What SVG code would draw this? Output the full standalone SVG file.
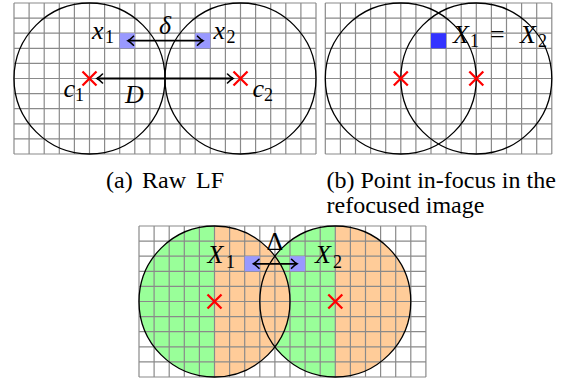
<svg xmlns="http://www.w3.org/2000/svg" width="567" height="384" viewBox="0 0 567 384">
<style>
.grid{fill:none;stroke:#8a8a8a;stroke-width:1.2}
.circ{fill:none;stroke:#000;stroke-width:1.3}
.cross{stroke:#ff0000;stroke-width:2.3;fill:none}
.arr{stroke:#000;stroke-width:1.8;fill:none;marker-start:url(#ah);marker-end:url(#ah)}
text{font-family:'Liberation Serif',Tinos,'Times New Roman','DejaVu Serif',serif;fill:#000}
.m{font-style:italic;font-size:26px}
.up{font-size:26px}
.sub{font-size:18px}
.cap{font-size:24px}
.lb{fill:#9999ff}
.db{fill:#3333ff}
.gr{fill:#99ff99}
.or{fill:#ffcc99}
</style>
<defs>
<marker id="ah" viewBox="-7 -6 9 12" refX="0" refY="0" markerWidth="9" markerHeight="12" markerUnits="userSpaceOnUse" orient="auto-start-reverse">
<path d="M-5.5,-4.5 Q-2,-1 0,0 Q-2,1 -5.5,4.5" fill="none" stroke="#000" stroke-width="1.6" stroke-linecap="round"/>
</marker>
<clipPath id="clipL"><circle cx="214.5" cy="301.5" r="75.5"/></clipPath>
<clipPath id="clipR"><circle cx="335.3" cy="301.5" r="75.5"/></clipPath>
</defs>

<!-- Panel (a) -->
<g id="panel-a">
<g id="grid-a">
<path class="grid" d="M14,3V154M29.1,3V154M44.2,3V154M59.3,3V154M74.4,3V154M89.5,3V154M104.6,3V154M119.7,3V154M134.8,3V154M149.9,3V154M165,3V154M180.1,3V154M195.2,3V154M210.3,3V154M225.4,3V154M240.5,3V154M255.6,3V154M270.7,3V154M285.8,3V154M300.9,3V154M316,3V154M14,3H316M14,18.1H316M14,33.2H316M14,48.3H316M14,63.4H316M14,78.5H316M14,93.6H316M14,108.7H316M14,123.8H316M14,138.9H316M14,154H316"/>
</g>
<g id="a-circle1"><circle class="circ" cx="89.5" cy="78.5" r="75.5"/></g>
<g id="a-circle2"><circle class="circ" cx="240.5" cy="78.5" r="75.5"/></g>
<g id="a-x1"><rect class="lb" x="119.7" y="33.2" width="15.1" height="15.1"/></g>
<g id="a-x2"><rect class="lb" x="195.2" y="33.2" width="15.1" height="15.1"/></g>
<g id="a-c1"><path class="cross" d="M82.5,71.5L96.5,85.5M96.5,71.5L82.5,85.5"/></g>
<g id="a-c2"><path class="cross" d="M233.5,71.5L247.5,85.5M247.5,71.5L233.5,85.5"/></g>
<g id="a-labels">
<text class="m" x="92" y="39">x</text><text class="sub" x="105" y="43">1</text>
<text class="m" x="159" y="34">δ</text>
<text class="m" x="213.5" y="39">x</text><text class="sub" x="226.5" y="43">2</text>
<text class="m" x="63.5" y="97">c</text><text class="sub" x="75" y="101">1</text>
<text class="m" x="125" y="102.5">D</text>
<text class="m" x="252.5" y="97">c</text><text class="sub" x="264" y="101">2</text>
</g>
</g>

<!-- Panel (b) -->
<g id="panel-b">
<g id="grid-b">
<path class="grid" d="M325.3,3V154M340.4,3V154M355.5,3V154M370.6,3V154M385.7,3V154M400.8,3V154M415.9,3V154M431,3V154M446.1,3V154M461.2,3V154M476.3,3V154M491.4,3V154M506.5,3V154M521.6,3V154M536.7,3V154M551.8,3V154M325.3,3H551.8M325.3,18.1H551.8M325.3,33.2H551.8M325.3,48.3H551.8M325.3,63.4H551.8M325.3,78.5H551.8M325.3,93.6H551.8M325.3,108.7H551.8M325.3,123.8H551.8M325.3,138.9H551.8M325.3,154H551.8"/>
</g>
<g id="b-circle1"><circle class="circ" cx="400.8" cy="78.5" r="75.5"/></g>
<g id="b-circle2"><circle class="circ" cx="476.3" cy="78.5" r="75.5"/></g>
<g id="b-X"><rect class="db" x="431" y="33.2" width="15.1" height="15.1"/></g>
<g id="b-c1"><path class="cross" d="M393.8,71.5L407.8,85.5M407.8,71.5L393.8,85.5"/></g>
<g id="b-c2"><path class="cross" d="M469.3,71.5L483.3,85.5M483.3,71.5L469.3,85.5"/></g>
<g id="b-labels">
<text class="m" x="453" y="42.5">X</text><text class="sub" x="470" y="47">1</text>
<text class="up" x="490" y="42.5">=</text>
<text class="m" x="520" y="42.5">X</text><text class="sub" x="538" y="47">2</text>
</g>
</g>

<!-- Panel (c) -->
<g id="panel-c">
<g id="c-fill-right" clip-path="url(#clipR)">
<rect class="gr" x="259" y="226" width="76.3" height="152"/>
<rect class="or" x="335.3" y="226" width="76" height="152"/>
</g>
<g id="c-fill-left" clip-path="url(#clipL)">
<rect class="gr" x="138" y="226" width="76.5" height="152"/>
<rect class="or" x="214.5" y="226" width="76.5" height="152"/>
</g>
<g id="grid-c">
<path class="grid" d="M139,226V377M154.1,226V377M169.2,226V377M184.3,226V377M199.4,226V377M214.5,226V377M229.6,226V377M244.7,226V377M259.8,226V377M274.9,226V377M290,226V377M305.1,226V377M320.2,226V377M335.3,226V377M350.4,226V377M365.5,226V377M380.6,226V377M395.7,226V377M410.8,226V377M425.9,226V377M139,226H425.9M139,241.1H425.9M139,256.2H425.9M139,271.3H425.9M139,286.4H425.9M139,301.5H425.9M139,316.6H425.9M139,331.7H425.9M139,346.8H425.9M139,361.9H425.9M139,377H425.9"/>
</g>
<g id="c-circle1"><circle class="circ" cx="214.5" cy="301.5" r="75.5"/></g>
<g id="c-circle2"><circle class="circ" cx="335.3" cy="301.5" r="75.5"/></g>
<g id="c-X1"><rect class="lb" x="244.7" y="256.2" width="15.1" height="15.1"/></g>
<g id="c-X2"><rect class="lb" x="290" y="256.2" width="15.1" height="15.1"/></g>
<g id="c-c1"><path class="cross" d="M207.5,294.5L221.5,308.5M221.5,294.5L207.5,308.5"/></g>
<g id="c-c2"><path class="cross" d="M328.3,294.5L342.3,308.5M342.3,294.5L328.3,308.5"/></g>
<g id="c-labels">
<text class="m" x="207.5" y="263">X</text><text class="sub" x="226" y="268">1</text>
<text class="up" x="266.5" y="250">Δ</text>
<text class="m" x="315" y="263">X</text><text class="sub" x="333" y="268">2</text>
</g>
</g>

<!-- Connectors -->
<g id="connectors">
<line class="arr" x1="128" y1="40.7" x2="203" y2="40.7"/>
<line class="arr" x1="97" y1="78.5" x2="233" y2="78.5"/>
<line class="arr" x1="253.5" y1="263.8" x2="297" y2="263.8"/>
</g>

<!-- Captions -->
<g id="captions">
<text class="cap" x="106" y="187.5">(a)</text>
<text class="cap" x="142" y="187.5">Raw</text>
<text class="cap" x="196" y="187.5">LF</text>
<text class="cap" x="326.5" y="187.5">(b) Point in-focus in the</text>
<text class="cap" x="326.5" y="213">refocused image</text>
</g>
</svg>
